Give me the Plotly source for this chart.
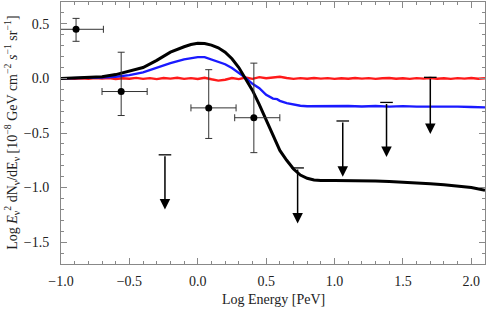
import plotly.graph_objects as go

# ---- data ----
red_x = [-1.0, -0.95, -0.9, -0.85, -0.8, -0.75, -0.7, -0.65, -0.6, -0.55, -0.5, -0.45, -0.4, -0.35,
         -0.3, -0.25, -0.2, -0.15, -0.1, -0.05, 0.0, 0.05, 0.1, 0.15, 0.2, 0.25, 0.3, 0.35, 0.4, 0.45,
         0.5, 0.55, 0.6, 0.65, 0.7, 0.75, 0.8, 0.85, 0.9, 0.95, 1.0, 1.05, 1.1, 1.15, 1.2, 1.25, 1.3,
         1.35, 1.4, 1.45, 1.5, 1.55, 1.6, 1.65, 1.7, 1.75, 1.8, 1.85, 1.9, 1.95, 2.0, 2.05, 2.1]
red_y = [0.000, 0.002, -0.003, 0.001, -0.004, 0.003, -0.002, 0.004, -0.005, 0.002, -0.003, 0.005,
         -0.004, 0.003, -0.006, 0.004, -0.002, 0.006, -0.004, 0.003, -0.005, 0.006, -0.008, -0.020,
         -0.012, 0.004, -0.006, 0.008, -0.004, 0.012, 0.002, 0.010, 0.015, 0.004, -0.004, 0.003,
         -0.003, 0.004, -0.002, 0.003, -0.004, 0.002, -0.003, 0.004, -0.002, 0.003, -0.004, 0.002,
         0.004, -0.003, 0.002, -0.004, 0.003, -0.002, 0.004, -0.003, 0.002, -0.004, 0.003, -0.002,
         0.004, -0.003, 0.002]

blue_x = [-1.0, -0.9, -0.8, -0.7, -0.6, -0.5, -0.4, -0.3, -0.2, -0.1, 0.0, 0.05, 0.1, 0.15, 0.2,
          0.25, 0.3, 0.35, 0.4, 0.45, 0.5, 0.55, 0.58, 0.6, 0.65, 0.7, 0.75, 0.8, 0.9, 1.0, 1.1,
          1.2, 1.3, 1.4, 1.5, 1.6, 1.7, 1.8, 1.9, 2.0, 2.1]
blue_y = [0.0, 0.002, 0.005, 0.008, 0.015, 0.03, 0.055, 0.10, 0.14, 0.175, 0.195, 0.195, 0.175,
          0.155, 0.13, 0.095, 0.05, 0.005, -0.05, -0.09, -0.15, -0.185, -0.19, -0.205, -0.226,
          -0.24, -0.25, -0.255, -0.252, -0.256, -0.252, -0.257, -0.253, -0.258, -0.254, -0.258,
          -0.256, -0.26, -0.258, -0.262, -0.265]

black_x = [-1.0, -0.9, -0.8, -0.7, -0.6, -0.5, -0.4, -0.3, -0.2, -0.1, -0.05, 0.0, 0.05, 0.1, 0.15,
           0.2, 0.25, 0.3, 0.35, 0.4, 0.45, 0.5, 0.55, 0.6, 0.65, 0.7, 0.75, 0.8, 0.85, 0.9, 1.0,
           1.1, 1.2, 1.3, 1.4, 1.5, 1.6, 1.7, 1.8, 1.9, 2.0, 2.1]
black_y = [0.0, 0.003, 0.008, 0.015, 0.035, 0.065, 0.10, 0.165, 0.24, 0.29, 0.31, 0.322, 0.32,
           0.305, 0.28, 0.24, 0.18, 0.10, 0.0, -0.11, -0.24, -0.38, -0.52, -0.66, -0.75, -0.83,
           -0.885, -0.915, -0.93, -0.935, -0.935, -0.935, -0.94, -0.94, -0.945, -0.95, -0.96,
           -0.965, -0.975, -0.985, -1.0, -1.025]

pts_x = [-0.89, -0.56, 0.08, 0.41]
pts_y = [0.45, -0.12, -0.27, -0.36]
pts_xerr_minus = [0.13, 0.14, 0.13, 0.14]
pts_xerr_plus = [0.20, 0.19, 0.20, 0.19]
pts_yerr_plus = [0.10, 0.36, 0.35, 0.50]
pts_yerr_minus = [0.11, 0.22, 0.28, 0.32]

ul_x = [-0.24, 0.73, 1.06, 1.38, 1.70]
ul_top = [-0.70, -0.82, -0.39, -0.22, 0.01]
ul_tip = [-1.20, -1.33, -0.90, -0.72, -0.51]

x_ticks = [-1.0, -0.5, 0.0, 0.5, 1.0, 1.5, 2.0]
y_ticks = [-1.5, -1.0, -0.5, 0.0, 0.5]

FONT = "Liberation Serif, Times New Roman, serif"

fig = go.Figure()
fig.add_trace(go.Scatter(x=red_x, y=red_y, mode="lines",
                         line=dict(color="#ff1a1a", width=2.4), showlegend=False))
fig.add_trace(go.Scatter(x=blue_x, y=blue_y, mode="lines",
                         line=dict(color="#1a1aff", width=2.4), showlegend=False))
fig.add_trace(go.Scatter(x=black_x, y=black_y, mode="lines",
                         line=dict(color="black", width=3), showlegend=False))

fig.add_trace(go.Scatter(
    x=pts_x, y=pts_y, mode="markers",
    marker=dict(color="black", size=7),
    error_x=dict(type="data", symmetric=False, array=pts_xerr_plus, arrayminus=pts_xerr_minus,
                 color="#333", thickness=1, width=3.5),
    error_y=dict(type="data", symmetric=False, array=pts_yerr_plus, arrayminus=pts_yerr_minus,
                 color="#333", thickness=1, width=3.5),
    showlegend=False))

# caps of the upper limits
fig.add_trace(go.Scatter(x=ul_x, y=ul_top, mode="markers",
                         marker=dict(symbol="line-ew", size=9,
                                     line=dict(color="black", width=1.3)),
                         showlegend=False))

for xv, top, tip in zip(ul_x, ul_top, ul_tip):
    fig.add_annotation(x=xv, y=tip, ax=xv, ay=top, xref="x", yref="y", axref="x", ayref="y",
                       text="", showarrow=True, arrowhead=2, arrowsize=1.4, arrowwidth=1.5,
                       arrowcolor="black", standoff=0, startstandoff=0)

axis_common = dict(
    showline=True, linecolor="#888", linewidth=1, mirror="allticks",
    ticks="inside", ticklen=6, tickcolor="#888", tickwidth=1,
    showgrid=False, zeroline=False, automargin=False,
    tickfont=dict(family=FONT, size=14, color="#222"),
    minor=dict(ticks="inside", ticklen=3, dtick=0.1, tickcolor="#888", showgrid=False),
)

fig.update_xaxes(range=[-1.0, 2.1], tickvals=x_ticks,
                 ticktext=[f"{v:.1f}".replace("-", "\u2212") for v in x_ticks],
                 ticklabelstandoff=4, **axis_common)
fig.update_yaxes(range=[-1.7, 0.7], tickvals=y_ticks,
                 ticktext=[f"{v:.1f}".replace("-", "\u2212") for v in y_ticks],
                 ticklabelstandoff=8, **axis_common)

fig.add_annotation(xref="paper", yref="paper", x=0.5, y=-0.137, xanchor="center", yanchor="middle",
                   text="Log Energy [PeV]", showarrow=False,
                   font=dict(family=FONT, size=14, color="#222"))
fig.add_annotation(xref="paper", yref="paper", x=-0.116, y=0.5, xanchor="center", yanchor="middle",
                   textangle=-90, showarrow=False,
                   text="Log <i>E</i><sub>\u03bd</sub><sup>2</sup> dN<sub>\u03bd</sub>/dE<sub>\u03bd</sub> "
                        "[10<sup>\u22128</sup> GeV cm<sup>\u22122</sup> <i>s</i><sup>\u22121</sup> sr<sup>\u22121</sup>]",
                   font=dict(family=FONT, size=14, color="#222"))

fig.update_layout(width=488, height=309, margin=dict(l=61, r=3, t=2, b=45, autoexpand=False),
                  plot_bgcolor="white", paper_bgcolor="white", template="none")

fig.write_html("out.html", config={"displayModeBar": False},
               post_script="document.body.style.margin='0';document.body.style.padding='0';")
